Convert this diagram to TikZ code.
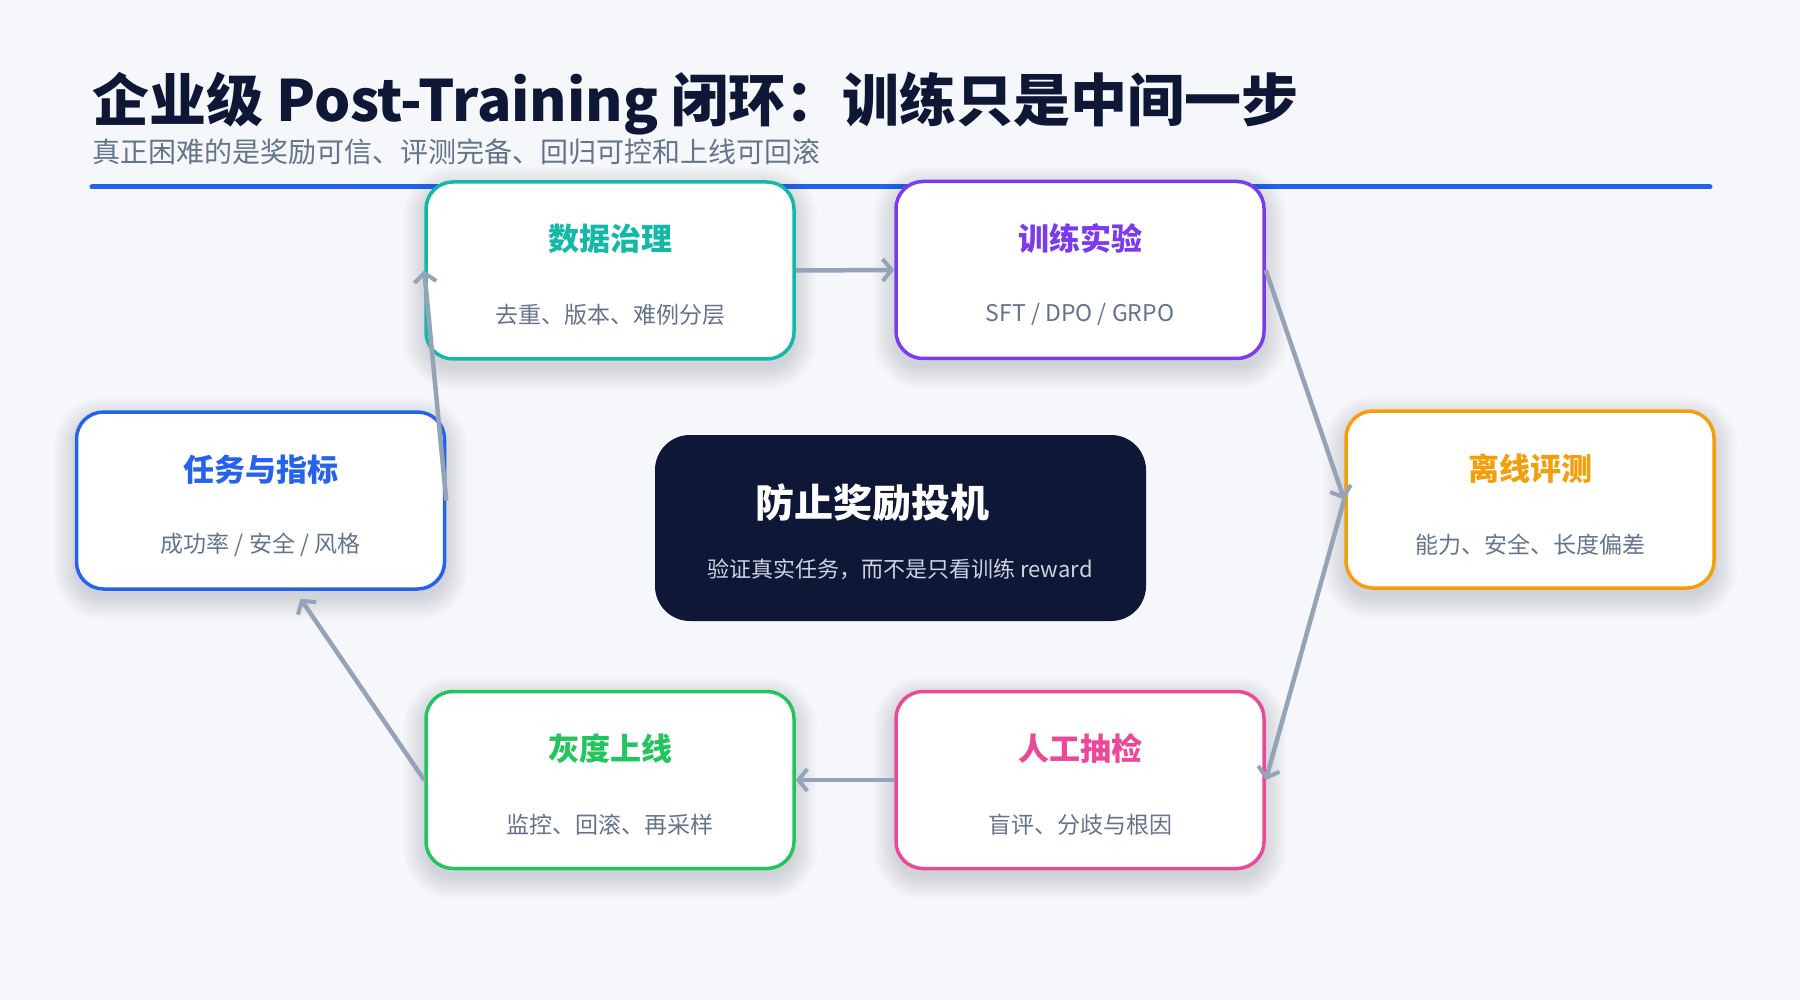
\documentclass[tikz,border=0pt]{standalone}
\usepackage{fontspec}
\setmainfont{Noto Sans CJK SC}
\usetikzlibrary{arrows.meta,calc}
\definecolor{bgc}{HTML}{F5F7FB}
\definecolor{navy}{HTML}{0E1736}
\definecolor{subg}{HTML}{64748B}
\definecolor{rule}{HTML}{2563EB}
\definecolor{arr}{HTML}{94A3B8}
\definecolor{cteal}{HTML}{14B8A6}
\definecolor{cpurple}{HTML}{7C3AED}
\definecolor{corange}{HTML}{F59E0B}
\definecolor{cpink}{HTML}{EC4899}
\definecolor{cgreen}{HTML}{22C55E}
\definecolor{cblue}{HTML}{2563EB}
\definecolor{csub}{HTML}{CBD5E1}
\definecolor{shadowc}{HTML}{1E293B}
\tikzset{
  stagebox/.style={draw=#1, line width=3.5pt, fill=white, rounded corners=27pt,
    minimum width=368pt, minimum height=177pt, inner sep=0pt},
  shadowring/.style={fill=shadowc, opacity=0.01},
  stagetitle/.style={text=#1, font=\fontsize{31}{36}\selectfont\bfseries, inner sep=0pt, anchor=center},
  stagesub/.style={text=subg, font=\fontsize{23}{27}\selectfont, inner sep=0pt, anchor=center},
  flow/.style={draw=arr, line width=4.5pt, -{Straight Barb[length=9pt,width=22pt,line width=4pt]}},
}
\newcommand\mystage[6]{%
  \foreach \r in {1,3,...,23}{%
    \pgfmathsetmacro\rc{27+\r}%
    \fill[shadowring, rounded corners=\rc pt] (#2-184-\r, #3-88.5-\r+8) rectangle (#2+184+\r, #3+88.5+\r+8);
  }
  \node[stagebox=#4] (#1) at (#2,#3) {};
  \node[stagetitle=#4] (#1-t) at ([yshift=-59pt]#1.north) {#5};
  \node[stagesub] (#1-s) at ([yshift=-135pt]#1.north) {#6};
}
\begin{document}
\begin{tikzpicture}[x=1pt,y=-1pt]
\fill[bgc] (0,0) rectangle (1800,1000);
\useasboundingbox (0,0) rectangle (1800,1000);
% header
\node[anchor=base west, inner sep=0pt, text=navy, font=\fontsize{57}{62}\selectfont\bfseries] (title) at (92,122) {企业级 Post-Training 闭环：训练只是中间一步};
\node[anchor=base west, inner sep=0pt, text=subg, font=\fontsize{28}{32}\selectfont] (subtitle) at (92,163) {真正困难的是奖励可信、评测完备、回归可控和上线可回滚};
\coordinate (rl) at (92,187);
\coordinate (rr) at (1710,187);
\draw[rule, line width=5pt, line cap=round] (rl) -- (rr);
% stages
\mystage{task}{260.5}{500.5}{cblue}{任务与指标}{成功率 / 安全 / 风格}
\mystage{data}{610}{270.5}{cteal}{数据治理}{去重、版本、难例分层}
\mystage{train}{1080}{270}{cpurple}{训练实验}{SFT / DPO / GRPO}
\mystage{eval}{1530}{499.5}{corange}{离线评测}{能力、安全、长度偏差}
\mystage{human}{1080}{780}{cpink}{人工抽检}{盲评、分歧与根因}
\mystage{gray}{610}{780}{cgreen}{灰度上线}{监控、回滚、再采样}
% center
\node[fill=navy, rounded corners=35pt, minimum width=491pt, minimum height=186pt, inner sep=0pt] (core) at (900.5,528) {};
\node[text=white, font=\fontsize{39}{44}\selectfont\bfseries, inner sep=0pt] (core-t) at (872,503) {防止奖励投机};
\node[text=csub, font=\fontsize{22}{26}\selectfont, inner sep=0pt] (core-s) at (900,569) {验证真实任务，而不是只看训练 reward};
% connectors
\coordinate (taskin) at ([xshift=40pt,yshift=-8pt]task.south);
\draw[flow] (task.east) -- (data.west);
\draw[flow] (data.east) -- (train.west);
\draw[flow] (train.east) -- (eval.west);
\draw[flow] (eval.west) -- (human.east);
\draw[flow] (human.west) -- (gray.east);
\draw[flow] (gray.west) -- (taskin);
\end{tikzpicture}
\end{document}
